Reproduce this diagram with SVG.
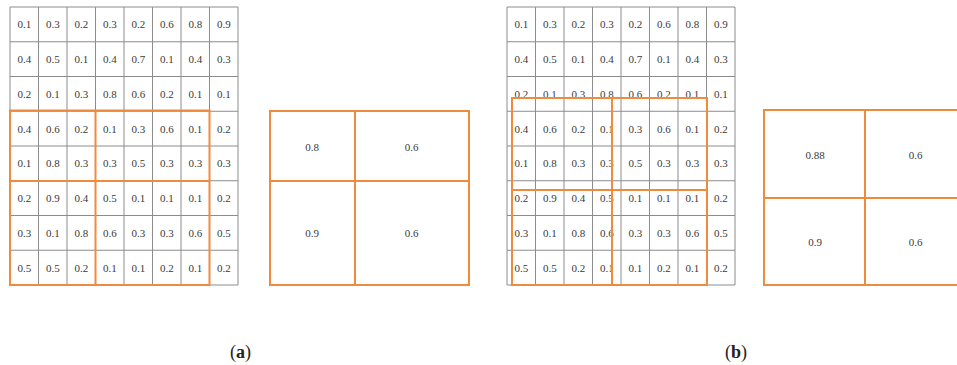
<svg xmlns="http://www.w3.org/2000/svg" width="957" height="365" viewBox="0 0 957 365">
<style>
.bg{fill:#ffffff}
.grid{fill:none;stroke:#8c8c8c;stroke-width:1}
.or{fill:none;stroke:#f08a3c;stroke-width:2}
.t text{font-family:'Liberation Serif','Times New Roman',serif;font-size:11px;fill:#3a3a3a;text-anchor:middle;dominant-baseline:central}
.lab{font-family:'Liberation Serif','Times New Roman',serif;font-size:18px;fill:#222;text-anchor:middle;dominant-baseline:central}
</style>
<rect class="bg" x="0" y="0" width="957" height="365"/>
<g id="gridA">
<path class="grid" d="M10 7V285M38.5 7V285M67 7V285M95.5 7V285M124 7V285M152.5 7V285M181 7V285M209.5 7V285M238 7V285M10 7H238M10 41.75H238M10 76.5H238M10 111.25H238M10 146H238M10 180.75H238M10 215.5H238M10 250.25H238M10 285H238"/>
<g class="t" font-family="Liberation Serif, serif">
<text x="24.25" y="24.4">0.1</text><text x="52.75" y="24.4">0.3</text><text x="81.25" y="24.4">0.2</text><text x="109.75" y="24.4">0.3</text><text x="138.25" y="24.4">0.2</text><text x="166.75" y="24.4">0.6</text><text x="195.25" y="24.4">0.8</text><text x="223.75" y="24.4">0.9</text>
<text x="24.25" y="59.1">0.4</text><text x="52.75" y="59.1">0.5</text><text x="81.25" y="59.1">0.1</text><text x="109.75" y="59.1">0.4</text><text x="138.25" y="59.1">0.7</text><text x="166.75" y="59.1">0.1</text><text x="195.25" y="59.1">0.4</text><text x="223.75" y="59.1">0.3</text>
<text x="24.25" y="93.9">0.2</text><text x="52.75" y="93.9">0.1</text><text x="81.25" y="93.9">0.3</text><text x="109.75" y="93.9">0.8</text><text x="138.25" y="93.9">0.6</text><text x="166.75" y="93.9">0.2</text><text x="195.25" y="93.9">0.1</text><text x="223.75" y="93.9">0.1</text>
<text x="24.25" y="128.6">0.4</text><text x="52.75" y="128.6">0.6</text><text x="81.25" y="128.6">0.2</text><text x="109.75" y="128.6">0.1</text><text x="138.25" y="128.6">0.3</text><text x="166.75" y="128.6">0.6</text><text x="195.25" y="128.6">0.1</text><text x="223.75" y="128.6">0.2</text>
<text x="24.25" y="163.4">0.1</text><text x="52.75" y="163.4">0.8</text><text x="81.25" y="163.4">0.3</text><text x="109.75" y="163.4">0.3</text><text x="138.25" y="163.4">0.5</text><text x="166.75" y="163.4">0.3</text><text x="195.25" y="163.4">0.3</text><text x="223.75" y="163.4">0.3</text>
<text x="24.25" y="198.1">0.2</text><text x="52.75" y="198.1">0.9</text><text x="81.25" y="198.1">0.4</text><text x="109.75" y="198.1">0.5</text><text x="138.25" y="198.1">0.1</text><text x="166.75" y="198.1">0.1</text><text x="195.25" y="198.1">0.1</text><text x="223.75" y="198.1">0.2</text>
<text x="24.25" y="232.9">0.3</text><text x="52.75" y="232.9">0.1</text><text x="81.25" y="232.9">0.8</text><text x="109.75" y="232.9">0.6</text><text x="138.25" y="232.9">0.3</text><text x="166.75" y="232.9">0.3</text><text x="195.25" y="232.9">0.6</text><text x="223.75" y="232.9">0.5</text>
<text x="24.25" y="267.6">0.5</text><text x="52.75" y="267.6">0.5</text><text x="81.25" y="267.6">0.2</text><text x="109.75" y="267.6">0.1</text><text x="138.25" y="267.6">0.1</text><text x="166.75" y="267.6">0.2</text><text x="195.25" y="267.6">0.1</text><text x="223.75" y="267.6">0.2</text>
</g>
<path class="or" d="M10 110.5H209.5V285H10ZM95.5 110.5V285M10 181H209.5"/>
</g>
<g id="outA">
<path class="or" d="M270 111H469V285H270ZM355 111V285M270 181H469"/>
<g class="t" font-family="Liberation Serif, serif">
<text x="312" y="146.5">0.8</text><text x="411.5" y="146.5">0.6</text>
<text x="312" y="233">0.9</text><text x="411.5" y="233">0.6</text>
</g>
</g>
<g id="gridB">
<path class="grid" d="M507 7V285M535.5 7V285M564 7V285M592.5 7V285M621 7V285M649.5 7V285M678 7V285M706.5 7V285M735 7V285M507 7H735M507 41.75H735M507 76.5H735M507 111.25H735M507 146H735M507 180.75H735M507 215.5H735M507 250.25H735M507 285H735"/>
<g class="t" font-family="Liberation Serif, serif">
<text x="521.25" y="24.4">0.1</text><text x="549.75" y="24.4">0.3</text><text x="578.25" y="24.4">0.2</text><text x="606.75" y="24.4">0.3</text><text x="635.25" y="24.4">0.2</text><text x="663.75" y="24.4">0.6</text><text x="692.25" y="24.4">0.8</text><text x="720.75" y="24.4">0.9</text>
<text x="521.25" y="59.1">0.4</text><text x="549.75" y="59.1">0.5</text><text x="578.25" y="59.1">0.1</text><text x="606.75" y="59.1">0.4</text><text x="635.25" y="59.1">0.7</text><text x="663.75" y="59.1">0.1</text><text x="692.25" y="59.1">0.4</text><text x="720.75" y="59.1">0.3</text>
<text x="521.25" y="93.9">0.2</text><text x="549.75" y="93.9">0.1</text><text x="578.25" y="93.9">0.3</text><text x="606.75" y="93.9">0.8</text><text x="635.25" y="93.9">0.6</text><text x="663.75" y="93.9">0.2</text><text x="692.25" y="93.9">0.1</text><text x="720.75" y="93.9">0.1</text>
<text x="521.25" y="128.6">0.4</text><text x="549.75" y="128.6">0.6</text><text x="578.25" y="128.6">0.2</text><text x="606.75" y="128.6">0.1</text><text x="635.25" y="128.6">0.3</text><text x="663.75" y="128.6">0.6</text><text x="692.25" y="128.6">0.1</text><text x="720.75" y="128.6">0.2</text>
<text x="521.25" y="163.4">0.1</text><text x="549.75" y="163.4">0.8</text><text x="578.25" y="163.4">0.3</text><text x="606.75" y="163.4">0.3</text><text x="635.25" y="163.4">0.5</text><text x="663.75" y="163.4">0.3</text><text x="692.25" y="163.4">0.3</text><text x="720.75" y="163.4">0.3</text>
<text x="521.25" y="198.1">0.2</text><text x="549.75" y="198.1">0.9</text><text x="578.25" y="198.1">0.4</text><text x="606.75" y="198.1">0.5</text><text x="635.25" y="198.1">0.1</text><text x="663.75" y="198.1">0.1</text><text x="692.25" y="198.1">0.1</text><text x="720.75" y="198.1">0.2</text>
<text x="521.25" y="232.9">0.3</text><text x="549.75" y="232.9">0.1</text><text x="578.25" y="232.9">0.8</text><text x="606.75" y="232.9">0.6</text><text x="635.25" y="232.9">0.3</text><text x="663.75" y="232.9">0.3</text><text x="692.25" y="232.9">0.6</text><text x="720.75" y="232.9">0.5</text>
<text x="521.25" y="267.6">0.5</text><text x="549.75" y="267.6">0.5</text><text x="578.25" y="267.6">0.2</text><text x="606.75" y="267.6">0.1</text><text x="635.25" y="267.6">0.1</text><text x="663.75" y="267.6">0.2</text><text x="692.25" y="267.6">0.1</text><text x="720.75" y="267.6">0.2</text>
</g>
<path class="or" d="M512 98H707V285H512ZM612 98V285M512 190H707"/>
</g>
<g id="outB">
<path class="or" d="M764 110H962V285H764ZM865 110V285M764 198H962"/>
<g class="t" font-family="Liberation Serif, serif">
<text x="815" y="155">0.88</text><text x="915.5" y="155">0.6</text>
<text x="815" y="241.5">0.9</text><text x="915.5" y="241.5">0.6</text>
</g>
</g>
<g id="labels">
<text class="lab" x="240.5" y="351.5">(<tspan font-weight="bold">a</tspan>)</text>
<text class="lab" x="736" y="351.5">(<tspan font-weight="bold">b</tspan>)</text>
</g>
</svg>
